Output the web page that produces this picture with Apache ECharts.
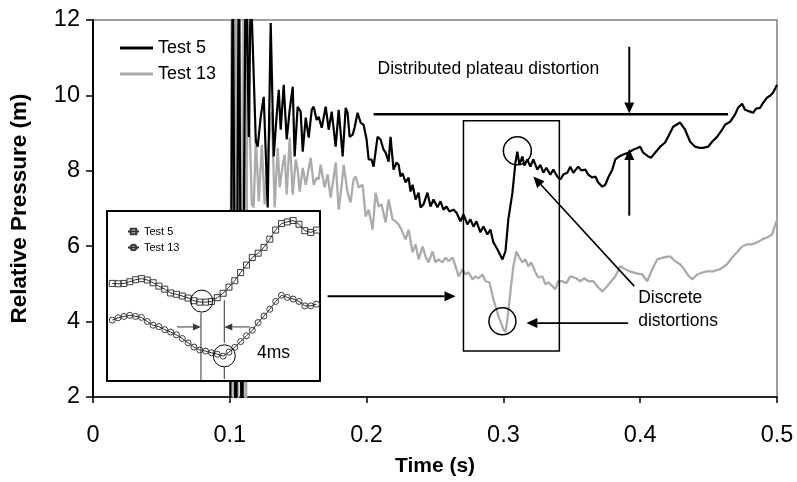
<!DOCTYPE html>
<html>
<head>
<meta charset="utf-8">
<title>Relative pressure - Test 5 / Test 13</title>
<script src="https://cdn.jsdelivr.net/npm/echarts@6/dist/echarts.min.js"></script>
<style>
  html, body { margin: 0; padding: 0; background: #fff; }
  #main { width: 797px; height: 482px; }
</style>
</head>
<body>
<div id="main"></div>
<script>
// Test 5 trace: time (s) and relative pressure (m)
const test5Time = [
  0.1000, 0.1022, 0.1044, 0.1066, 0.1088, 0.1117, 0.1139, 0.1153, 0.1190, 0.1204,
  0.1226, 0.1248, 0.1277, 0.1299, 0.1321, 0.1343, 0.1358, 0.1372, 0.1394, 0.1416,
  0.1438, 0.1460, 0.1474, 0.1496, 0.1518, 0.1533, 0.1555, 0.1577, 0.1599, 0.1613,
  0.1635, 0.1650, 0.1672, 0.1701, 0.1723, 0.1745, 0.1774, 0.1796, 0.1825, 0.1847,
  0.1861, 0.1876, 0.1898, 0.1912, 0.1934, 0.1956, 0.1978, 0.2000, 0.2015, 0.2036,
  0.2051, 0.2080, 0.2102, 0.2124, 0.2139, 0.2161, 0.2175, 0.2197, 0.2219, 0.2234,
  0.2248, 0.2263, 0.2285, 0.2307, 0.2321, 0.2336, 0.2358, 0.2380, 0.2394, 0.2416,
  0.2445, 0.2467, 0.2489, 0.2518, 0.2540, 0.2562, 0.2584, 0.2606, 0.2635, 0.2657,
  0.2686, 0.2708, 0.2737, 0.2759, 0.2781, 0.2803, 0.2832, 0.2854, 0.2883, 0.2905,
  0.2927, 0.2956, 0.2993, 0.3015, 0.3036, 0.3066, 0.3088, 0.3102, 0.3117, 0.3139,
  0.3153, 0.3175, 0.3197, 0.3219, 0.3248, 0.3270, 0.3292, 0.3314, 0.3343, 0.3365,
  0.3394, 0.3416, 0.3438, 0.3467, 0.3489, 0.3511, 0.3547, 0.3569, 0.3599, 0.3620,
  0.3650, 0.3672, 0.3693, 0.3723, 0.3745, 0.3766, 0.3796, 0.3818, 0.3847, 0.3876,
  0.3912, 0.3949, 0.3971, 0.4000, 0.4022, 0.4058, 0.4080, 0.4109, 0.4146, 0.4182,
  0.4219, 0.4241, 0.4292, 0.4328, 0.4365, 0.4401, 0.4431, 0.4460, 0.4496, 0.4526,
  0.4562, 0.4599, 0.4620, 0.4657, 0.4693, 0.4715, 0.4745, 0.4766, 0.4803, 0.4825,
  0.4847, 0.4876, 0.4898, 0.4927, 0.4949, 0.4971, 0.4993, 0.5000
];
const test5Pressure = [
  -1, 14, -1, 14, -1, 14, 8.90, 13.0, 8.80, 8.64,
  9.43, 9.96, 7.03, 11.92, 8.38, 9.49, 10.15, 9.09, 10.28, 8.83,
  9.62, 10.23, 8.38, 9.70, 9.57, 8.51, 9.41, 8.88, 9.62, 9.70,
  9.35, 9.43, 9.14, 9.70, 9.09, 9.57, 8.64, 9.62, 8.38, 9.67,
  9.54, 8.90, 8.96, 9.14, 9.54, 9.28, 9.22, 8.83, 8.30, 8.30,
  8.11, 8.90, 8.83, 8.56, 8.48, 8.24, 8.90, 8.03, 8.22, 8.16,
  7.85, 7.93, 7.69, 7.82, 7.45, 7.63, 7.24, 7.42, 7.03, 7.11,
  7.42, 7.05, 7.24, 7.03, 7.19, 6.97, 7.05, 6.92, 6.97, 6.89,
  6.66, 6.84, 6.58, 6.71, 6.52, 6.66, 6.37, 6.52, 6.31, 6.44,
  6.10, 5.92, 5.65, 5.86, 6.71, 7.42, 8.22, 8.51, 8.16, 8.38,
  8.14, 8.30, 8.11, 8.30, 8.03, 8.16, 7.95, 8.08, 7.90, 8.03,
  7.85, 7.77, 7.90, 7.95, 8.11, 7.95, 8.11, 8.01, 8.03, 7.90,
  7.82, 7.85, 7.69, 7.58, 7.63, 7.82, 8.03, 8.30, 8.38, 8.43,
  8.48, 8.56, 8.59, 8.64, 8.48, 8.38, 8.35, 8.48, 8.64, 8.75,
  9.01, 9.17, 9.28, 9.09, 8.77, 8.64, 8.61, 8.61, 8.64, 8.77,
  8.90, 9.09, 9.22, 9.30, 9.49, 9.67, 9.78, 9.62, 9.57, 9.54,
  9.65, 9.67, 9.80, 9.94, 9.99, 10.07, 10.23, 10.28
];

// Test 13 trace
const test13Time = [
  0.1000, 0.1015, 0.1029, 0.1044, 0.1058, 0.1073, 0.1088, 0.1102, 0.1117, 0.1131,
  0.1146, 0.1161, 0.1175, 0.1190, 0.1212, 0.1234, 0.1255, 0.1277, 0.1307, 0.1328,
  0.1350, 0.1365, 0.1387, 0.1401, 0.1416, 0.1438, 0.1460, 0.1482, 0.1496, 0.1511,
  0.1533, 0.1555, 0.1569, 0.1591, 0.1613, 0.1635, 0.1650, 0.1664, 0.1693, 0.1715,
  0.1737, 0.1759, 0.1774, 0.1796, 0.1818, 0.1832, 0.1861, 0.1883, 0.1905, 0.1920,
  0.1942, 0.1971, 0.1993, 0.2015, 0.2044, 0.2066, 0.2088, 0.2109, 0.2139, 0.2161,
  0.2190, 0.2212, 0.2234, 0.2255, 0.2285, 0.2307, 0.2336, 0.2358, 0.2380, 0.2409,
  0.2431, 0.2453, 0.2482, 0.2504, 0.2526, 0.2555, 0.2577, 0.2599, 0.2628, 0.2650,
  0.2672, 0.2701, 0.2723, 0.2745, 0.2774, 0.2796, 0.2818, 0.2847, 0.2869, 0.2898,
  0.2927, 0.2964, 0.3000, 0.3015, 0.3029, 0.3051, 0.3073, 0.3095, 0.3117, 0.3139,
  0.3161, 0.3182, 0.3204, 0.3234, 0.3255, 0.3285, 0.3307, 0.3328, 0.3358, 0.3380,
  0.3401, 0.3431, 0.3460, 0.3489, 0.3533, 0.3562, 0.3591, 0.3620, 0.3657, 0.3693,
  0.3723, 0.3752, 0.3781, 0.3818, 0.3854, 0.3891, 0.3927, 0.3971, 0.4015, 0.4051,
  0.4088, 0.4124, 0.4168, 0.4219, 0.4255, 0.4292, 0.4321, 0.4350, 0.4380, 0.4416,
  0.4460, 0.4496, 0.4533, 0.4584, 0.4635, 0.4672, 0.4708, 0.4745, 0.4781, 0.4818,
  0.4854, 0.4891, 0.4927, 0.4964, 0.4993, 0.5000
];
const test13Pressure = [
  -1, 14, -1, 14, -1, 14, -1, 14, -1, 14,
  9.09, 7.11, 7.03, 8.88, 7.19, 8.69, 7.11, 8.43, 9.57, 7.03,
  8.61, 7.56, 8.16, 8.43, 7.37, 8.88, 7.37, 8.30, 8.03, 7.45,
  8.08, 7.63, 7.90, 8.35, 7.63, 7.82, 7.77, 8.16, 7.56, 7.90,
  7.29, 7.82, 8.22, 6.97, 7.63, 8.16, 7.42, 7.16, 7.77, 7.85,
  7.56, 7.63, 6.79, 6.97, 6.44, 7.42, 7.05, 7.11, 6.63, 7.24,
  6.71, 6.66, 6.58, 6.44, 6.18, 6.44, 5.84, 6.05, 5.65, 5.99,
  5.73, 5.57, 5.86, 5.57, 5.65, 5.57, 5.70, 5.60, 5.70, 5.47,
  5.20, 5.39, 5.25, 5.31, 5.12, 5.20, 5.15, 5.25, 5.07, 5.04,
  4.59, 4.14, 3.80, 3.72, 4.06, 4.78, 5.47, 5.86, 5.70, 5.57,
  5.65, 5.47, 5.57, 5.31, 5.17, 5.20, 4.99, 5.04, 4.94, 4.86,
  5.07, 5.07, 5.02, 5.20, 5.15, 5.07, 5.15, 5.07, 5.07, 4.91,
  4.80, 4.91, 5.04, 5.20, 5.47, 5.39, 5.33, 5.28, 5.25, 5.07,
  5.39, 5.65, 5.70, 5.73, 5.60, 5.52, 5.39, 5.23, 5.12, 5.25,
  5.31, 5.33, 5.33, 5.39, 5.52, 5.70, 5.84, 5.99, 6.05, 6.05,
  6.10, 6.18, 6.23, 6.31, 6.63, 6.68
];

// inset: detail around the discrete distortion, 1 ms samples
const insetTimeMs = [
  0, 1, 2, 3, 4, 5, 6, 7, 8, 9, 10, 11, 12, 13, 14, 15, 16, 17,
  18, 19, 20, 21, 22, 23, 24, 25, 26, 27, 28, 29, 30, 31, 32, 33, 34, 35
];
const insetTest5 = [
  5.87, 5.86, 5.87, 5.92, 5.98, 6.01, 5.97, 5.89, 5.79, 5.70, 5.59, 5.55,
  5.50, 5.44, 5.36, 5.32, 5.32, 5.34, 5.45, 5.58, 5.76, 5.95, 6.19, 6.41,
  6.63, 6.76, 6.93, 7.17, 7.44, 7.63, 7.68, 7.72, 7.61, 7.42, 7.37, 7.44
];
const insetTest13 = [
  4.79, 4.86, 4.90, 4.93, 4.90, 4.87, 4.75, 4.64, 4.60, 4.51, 4.44, 4.36,
  4.25, 4.12, 4.00, 3.91, 3.88, 3.83, 3.79, 3.73, 3.85, 3.99, 4.16, 4.33,
  4.49, 4.72, 4.91, 5.11, 5.34, 5.52, 5.46, 5.41, 5.34, 5.21, 5.21, 5.26
];

const FONT = 'Liberation Sans, Arial, Helvetica, sans-serif';

function pairs(xs, ys) {
  return xs.map(function (x, i) { return [x, ys[i]]; });
}

const chart = echarts.init(document.getElementById('main'), null, { renderer: 'canvas' });

const option = {
  animation: false,
  backgroundColor: '#fff',
  textStyle: { fontFamily: FONT, color: '#000' },
  grid: [
    {
      left: 92, top: 20, width: 685, height: 378,
      show: true, borderColor: '#808080', borderWidth: 1.5,
      backgroundColor: 'transparent'
    },
    { left: 107, top: 211, width: 213, height: 170 }
  ],
  xAxis: [
    {
      type: 'value', gridIndex: 0, min: 0, max: 0.5, interval: 0.1,
      axisLine: { lineStyle: { color: '#000', width: 1.5 } },
      axisTick: { length: 6, lineStyle: { color: '#000', width: 1.5 } },
      splitLine: { show: false },
      axisLabel: { fontSize: 23.5, margin: 27, color: '#000', fontFamily: FONT },
      name: 'Time (s)', nameLocation: 'middle', nameGap: 59,
      nameTextStyle: { fontSize: 21, fontWeight: 'bold', color: '#000', fontFamily: FONT }
    },
    { type: 'value', gridIndex: 1, min: -0.9, max: 35.6, show: false }
  ],
  yAxis: [
    {
      type: 'value', gridIndex: 0, min: 2, max: 12, interval: 2,
      axisLine: { show: true, lineStyle: { color: '#000', width: 2 } },
      axisTick: { show: true, length: 7, lineStyle: { color: '#000', width: 1.5 } },
      splitLine: { show: false },
      axisLabel: { fontSize: 23.5, margin: 13, color: '#000', fontFamily: FONT },
      name: 'Relative Pressure (m)', nameLocation: 'middle', nameGap: 62,
      nameTextStyle: { fontSize: 22.5, fontWeight: 'bold', color: '#000', fontFamily: FONT }
    },
    { type: 'value', gridIndex: 1, min: 3, max: 8, show: false }
  ],
  legend: [
    {
      data: ['Test 5', 'Test 13'],
      orient: 'vertical', left: 120, top: 39, padding: 0,
      itemWidth: 33, itemHeight: 3, itemGap: 8, icon: 'rect',
      selectedMode: false,
      textStyle: { fontSize: 18, lineHeight: 18, color: '#000', fontFamily: FONT }
    },
    {
      data: ['inset Test 5', 'inset Test 13'],
      orient: 'vertical', left: 127, top: 226, padding: 0,
      itemWidth: 11, itemHeight: 7, itemGap: 5,
      selectedMode: false, z: 8,
      formatter: function (name) { return name.replace('inset ', ''); },
      textStyle: { fontSize: 11, lineHeight: 11, color: '#000', fontFamily: FONT }
    }
  ],
  series: [
    {
      name: 'Test 13', type: 'line', xAxisIndex: 0, yAxisIndex: 0,
      data: pairs(test13Time, test13Pressure),
      symbol: 'none', clip: true, z: 2,
      itemStyle: { color: '#ababab' },
      lineStyle: { color: '#ababab', width: 2.3 }
    },
    {
      name: 'Test 5', type: 'line', xAxisIndex: 0, yAxisIndex: 0,
      data: pairs(test5Time, test5Pressure),
      symbol: 'none', clip: true, z: 2,
      itemStyle: { color: '#000' },
      lineStyle: { color: '#000', width: 2.2 }
    },
    {
      name: 'inset Test 5', type: 'line', xAxisIndex: 1, yAxisIndex: 1,
      data: pairs(insetTimeMs, insetTest5),
      symbol: 'rect', symbolSize: 6, z: 6,
      itemStyle: { color: 'transparent', borderColor: '#3a3a3a', borderWidth: 1 },
      lineStyle: { color: '#2a2a2a', width: 1 }
    },
    {
      name: 'inset Test 13', type: 'line', xAxisIndex: 1, yAxisIndex: 1,
      data: pairs(insetTimeMs, insetTest13),
      symbol: 'circle', symbolSize: 6, z: 6,
      itemStyle: { color: 'transparent', borderColor: '#3a3a3a', borderWidth: 1 },
      lineStyle: { color: '#2a2a2a', width: 1 }
    }
  ]
};

chart.setOption(option);

// annotations, placed in data units and converted through the axes
function px(p) { return chart.convertToPixel({ xAxisIndex: 0, yAxisIndex: 0 }, p); }
function ipx(p) { return chart.convertToPixel({ xAxisIndex: 1, yAxisIndex: 1 }, p); }

function arrow(from, to, o) {
  const dx = to[0] - from[0], dy = to[1] - from[1];
  const len = Math.hypot(dx, dy);
  const ux = dx / len, uy = dy / len;
  const hw = o.headWidth / 2;
  const bx = to[0] - ux * o.headLen, by = to[1] - uy * o.headLen;
  return [
    { type: 'line', z: o.z, shape: { x1: from[0], y1: from[1], x2: bx, y2: by },
      style: { stroke: o.color, lineWidth: o.width } },
    { type: 'polygon', z: o.z, shape: { points: [to, [bx - uy * hw, by + ux * hw], [bx + uy * hw, by - ux * hw]] },
      style: { fill: o.color } }
  ];
}
function seg(a, b, color, width, z) {
  return { type: 'line', z: z, shape: { x1: a[0], y1: a[1], x2: b[0], y2: b[1] },
    style: { stroke: color, lineWidth: width } };
}
function ring(c, r, width, z) {
  return { type: 'circle', z: z, shape: { cx: c[0], cy: c[1], r: r },
    style: { fill: 'none', stroke: '#000', lineWidth: width } };
}
function label(p, text, size, z) {
  return { type: 'text', z: z, x: p[0], y: p[1],
    style: { text: text, fontSize: size, fontFamily: FONT, fill: '#000', align: 'left', verticalAlign: 'middle' } };
}

const big = { headLen: 11, headWidth: 10, color: '#000', width: 2, z: 4 };
const small = { headLen: 8, headWidth: 7, color: '#3a3a3a', width: 1, z: 7 };

const g = [];
// plateau level and its arrows
g.push(seg(px([0.2051, 9.5]), px([0.4642, 9.5]), '#000', 2.5, 4));
g.push.apply(g, arrow(px([0.392, 11.29]), px([0.392, 9.52]), big));
g.push.apply(g, arrow(px([0.392, 6.81]), px([0.392, 8.58]), big));
g.push(label(px([0.208, 10.70]), 'Distributed plateau distortion', 17.5, 4));
// box around the discrete distortion
const r0 = px([0.2708, 9.33]), r1 = px([0.3409, 3.22]);
g.push({ type: 'rect', z: 4, shape: { x: r0[0], y: r0[1], width: r1[0] - r0[0], height: r1[1] - r0[1] },
  style: { fill: 'none', stroke: '#000', lineWidth: 1.5 } });
g.push(ring(px([0.3102, 8.53]), 14, 1.5, 4));
g.push(ring(px([0.2993, 4.01]), 13.5, 1.5, 4));
g.push.apply(g, arrow(px([0.3956, 4.94]), px([0.3219, 7.85]), Object.assign({}, big, { width: 1.6 })));
g.push.apply(g, arrow(px([0.3912, 3.96]), px([0.3168, 3.96]), Object.assign({}, big, { width: 1.6 })));
g.push(label(px([0.3985, 4.62]), 'Discrete', 17.5, 4));
g.push(label(px([0.3985, 4.01]), 'distortions', 17.5, 4));
g.push.apply(g, arrow(px([0.1715, 4.67]), px([0.265, 4.67]), big));

// inset frame
const i0 = ipx([-0.9, 8]), i1 = ipx([35.6, 3]);
g.push({ type: 'rect', z: 3, shape: { x: i0[0], y: i0[1], width: i1[0] - i0[0], height: i1[1] - i0[1] },
  style: { fill: '#fff', stroke: '#000', lineWidth: 2 } });
g.push(ring(ipx([15.33, 5.35]), 11, 1, 7));
g.push(ring(ipx([19.2, 3.74]), 11, 1, 7));
g.push(seg(ipx([15.2, 5.0]), ipx([15.2, 3.03]), '#333', 1, 7));
g.push(seg(ipx([19.2, 5.38]), ipx([19.2, 4.12]), '#333', 1, 7));
g.push(seg(ipx([19.2, 3.41]), ipx([19.2, 3.06]), '#333', 1, 7));
g.push.apply(g, arrow(ipx([11.1, 4.59]), ipx([15.2, 4.59]), small));
g.push.apply(g, arrow(ipx([23.6, 4.59]), ipx([19.2, 4.59]), small));
g.push(label(ipx([24.8, 3.82]), '4ms', 17.5, 7));

chart.setOption({ graphic: { elements: g } });
</script>
</body>
</html>
